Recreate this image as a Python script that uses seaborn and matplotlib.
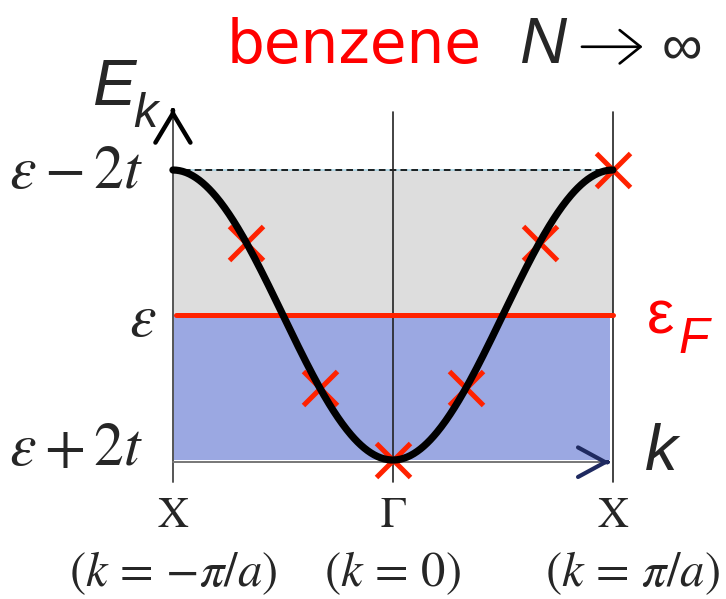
import numpy as np
import pandas as pd
import matplotlib
matplotlib.use("Agg")
import matplotlib.pyplot as plt
import seaborn as sns

sns.set_theme(style="white")
plt.rcParams["mathtext.fontset"] = "stix"
plt.rcParams["font.family"] = ["Liberation Sans", "DejaVu Sans"]

# ---- data -------------------------------------------------------------
# wave vector in units of pi/a, energy in units of |t| measured from epsilon
state_k = [-2/3, -1/3, 0, 1/3, 2/3, 1]      # allowed states of the 6-site ring
state_E = [1, -1, -2, -1, 1, 2]

E_top, E_fermi, E_bottom = 2, 0, -2
hopping = -1.0                                # t < 0

energy_ticks = [E_top, E_fermi, E_bottom]
energy_labels = [r"$\varepsilon - 2t$", r"$\varepsilon$", r"$\varepsilon + 2t$"]
k_points = [-1, 0, 1]
k_names = ["X", "Γ", "X"]
k_values = [r"$(k\,=\,{-}\pi/a)$", r"$(k\,=\,0)$", r"$(k\,=\,\pi/a)$"]

# tight-binding band E(k) = eps + 2t cos(ka) for the infinite chain
k_dense = np.linspace(-1, 1, 401)
band = pd.DataFrame({"k": k_dense, "E": 2 * hopping * np.cos(np.pi * k_dense)})
states = pd.DataFrame({"k": state_k, "E": state_E})

# ---- figure -----------------------------------------------------------
fig = plt.figure(figsize=(7.26, 5.99), dpi=100)
ax = fig.add_axes([0, 0, 1, 1])
ax.set_xlim(-1.786, 1.514)
ax.set_ylim(-3.917, 4.345)
ax.axis("off")

red = "#FF2200"

# empty (grey) and occupied (blue) halves of the band
ax.fill_between([-1, 1], E_fermi, E_top, color="#DDDDDD", lw=0, zorder=1)
ax.fill_between([-1, 0.985], E_bottom, E_fermi, color="#9BA8E2", lw=0, zorder=1)

# top of band
ax.plot([-1, 1], [E_top, E_top], color="#A8D4E4", lw=1.2, zorder=2)
ax.plot([-1, 1], [E_top, E_top], color="black", lw=1.2, dashes=(4, 2.5), zorder=2)

# zone centre and zone boundary
for xk in k_points[1:]:
    ax.plot([xk, xk], [-2.30, 2.80], color="#222222", lw=1.2, zorder=2)

# energy axis with arrow
ax.plot([-1, -1], [-2.30, 2.80], color="#555555", lw=1.4, zorder=2)
ax.annotate("", xy=(-1, 2.84), xytext=(-1, 2.82),
            arrowprops=dict(arrowstyle="->,head_length=0.7,head_width=0.42",
                            lw=3.2, color="black", mutation_scale=30,
                            shrinkA=0, shrinkB=0), zorder=6)
# k axis with arrow
ax.plot([-1, 0.98], [-2.03, -2.03], color="#777777", lw=1.4, zorder=2)
ax.annotate("", xy=(0.985, -2.03), xytext=(0.975, -2.03),
            arrowprops=dict(arrowstyle="->,head_length=0.7,head_width=0.38",
                            lw=3.0, color="#1F2A60", mutation_scale=28,
                            shrinkA=0, shrinkB=0), zorder=6)

# Fermi level
ax.plot([-0.985, 1], [E_fermi, E_fermi], color=red, lw=3.6, zorder=3)

# allowed states and band
sns.scatterplot(data=states, x="k", y="E", marker="x", s=600, color=red,
                linewidth=3.6, zorder=4, ax=ax, legend=False)
sns.lineplot(data=band, x="k", y="E", color="black", lw=5.2, zorder=5,
             ax=ax, sort=False, legend=False)
ax.axis("off")

# ---- text -------------------------------------------------------------
ax.text(-0.755, 3.476, "benzene", color="#FF0000", fontsize=43,
        family="DejaVu Sans", ha="left", va="baseline")
ax.text(0.577, 3.476, "N", fontsize=47, fontstyle="italic", ha="left", va="baseline")
ax.annotate("", xy=(1.135, 3.70), xytext=(0.859, 3.70),
            arrowprops=dict(arrowstyle="->,head_length=0.75,head_width=0.6",
                            lw=1.9, color="black", mutation_scale=20,
                            shrinkA=0, shrinkB=0))
ax.text(1.223, 3.476, "∞", fontsize=41, ha="left", va="baseline")

ax.text(-1.364, 2.897, "E", fontsize=47, fontstyle="italic", ha="left", va="baseline")
ax.text(-1.182, 2.593, "k", fontsize=35, fontstyle="italic", ha="left", va="baseline")

label_y = [1.96, -0.07, -1.85]
label_x = [-1.136, -1.073, -1.136]
for lx, ly, lab in zip(label_x, label_y, energy_labels):
    ax.text(lx, ly, lab, fontsize=43, ha="right", va="center")

ax.text(1.155, -0.04, "ε", color="#FF0000", fontsize=44, ha="left", va="center")
ax.text(1.30, -0.345, "F", color="#FF0000", fontsize=36, fontstyle="italic",
        ha="left", va="center")
ax.text(1.145, -2.138, "k", fontsize=47, fontstyle="italic", ha="left", va="baseline")

value_x = [-1.0, 0.0, 1.09]
for xk, name in zip(k_points, k_names):
    ax.text(xk, -2.786, name, fontsize=31, family="STIXGeneral", ha="center", va="center")
for vx, val in zip(value_x, k_values):
    ax.text(vx, -3.56, val, fontsize=35, ha="center", va="center")

fig.savefig("out.png", dpi=100)
